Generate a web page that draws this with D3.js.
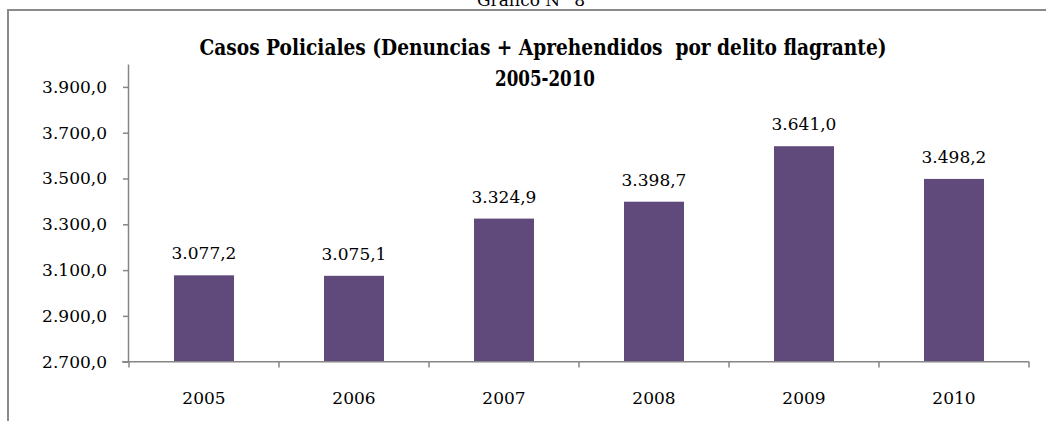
<!DOCTYPE html>
<html>
<head>
<meta charset="utf-8">
<script src="https://cdn.jsdelivr.net/npm/d3@7"></script>
<style>
  body { margin: 0; background: #fff; }
  svg text { font-family: "DejaVu Serif", serif; }
</style>
</head>
<body>
<div id="chart"></div>
<script>
// data
const years = ["2005", "2006", "2007", "2008", "2009", "2010"];
const casos = [3077.2, 3075.1, 3324.9, 3398.7, 3641.0, 3498.2];
const yTicks = [2700, 2900, 3100, 3300, 3500, 3700, 3900];

const W = 1046, H = 421;
const axisColor = "#868686";
const barColor = "#604a7b";
const fs = 17;

const es = d3.formatLocale({ decimal: ",", thousands: ".", grouping: [3], currency: ["", ""] });
const fmt = es.format(",.1f");

const svg = d3.select("#chart")
    .append("svg")
    .attr("width", W)
    .attr("height", H);

svg.append("rect")
    .attr("width", W).attr("height", H)
    .attr("fill", "#fff");

// caption above the frame (cut off at the top in the original)
svg.append("text")
    .attr("x", 531).attr("y", 6)
    .attr("text-anchor", "middle")
    .attr("font-size", 17)
    .text("Gráfico N° 8");

// frame
svg.append("rect")
    .attr("x", 8).attr("y", 10)
    .attr("width", W + 20).attr("height", H + 20)
    .attr("fill", "none")
    .attr("stroke", "#8a8a8a")
    .attr("stroke-width", 2);

// title
const title = svg.append("text")
    .attr("text-anchor", "middle")
    .attr("font-weight", "bold")
    .attr("font-size", 22);
title.append("tspan").attr("x", 543).attr("y", 55)
    .attr("textLength", 687)
    .attr("lengthAdjust", "spacingAndGlyphs")
    .style("white-space", "pre")
    .text("Casos Policiales (Denuncias + Aprehendidos  por delito flagrante)");
title.append("tspan").attr("x", 545).attr("y", 86)
    .attr("textLength", 100)
    .attr("lengthAdjust", "spacingAndGlyphs")
    .text("2005-2010");

const x = d3.scaleBand()
    .domain(years)
    .range([129, 1029])
    .paddingInner(0.6)
    .paddingOuter(0.3);

const y = d3.scaleLinear()
    .domain([2700, 4000])
    .range([361.7, 64]);

// y axis
const yAxis = svg.append("g")
    .attr("transform", "translate(128,0)")
    .call(d3.axisLeft(y).tickValues(yTicks).tickFormat(fmt).tickSize(5).tickSizeOuter(0).tickPadding(16));
yAxis.selectAll("path, line").attr("stroke", axisColor).attr("stroke-width", 1.5);
yAxis.selectAll("text").attr("font-size", fs).attr("fill", "#000").attr("font-family", "DejaVu Serif");

// bars
svg.selectAll("rect.bar")
    .data(casos)
    .enter()
    .append("rect")
    .attr("class", "bar")
    .attr("x", (d, i) => x(years[i]))
    .attr("y", d => y(d))
    .attr("width", x.bandwidth())
    .attr("height", d => y(2700) - y(d))
    .attr("fill", barColor);

// value labels
svg.selectAll("text.val")
    .data(casos)
    .enter()
    .append("text")
    .attr("class", "val")
    .attr("x", (d, i) => x(years[i]) + x.bandwidth() / 2)
    .attr("y", d => y(d) - 16)
    .attr("text-anchor", "middle")
    .attr("font-size", fs)
    .text(d => fmt(d));

// x axis: line, ticks on category boundaries, labels centred
const xAxis = svg.append("g");
xAxis.append("line")
    .attr("x1", 122).attr("x2", 1029)
    .attr("y1", 361.7).attr("y2", 361.7)
    .attr("stroke", axisColor).attr("stroke-width", 1.5);
const bounds = years.map(d => x(d) - x.step() * x.paddingOuter()).concat([x.range()[1]]);
xAxis.selectAll("line.tick")
    .data(bounds)
    .enter()
    .append("line")
    .attr("x1", d => d).attr("x2", d => d)
    .attr("y1", 361.7).attr("y2", 367.5)
    .attr("stroke", axisColor).attr("stroke-width", 1.5);
xAxis.selectAll("text")
    .data(years)
    .enter()
    .append("text")
    .attr("x", d => x(d) + x.bandwidth() / 2)
    .attr("y", 404)
    .attr("text-anchor", "middle")
    .attr("font-size", fs)
    .text(d => d);
</script>
</body>
</html>
